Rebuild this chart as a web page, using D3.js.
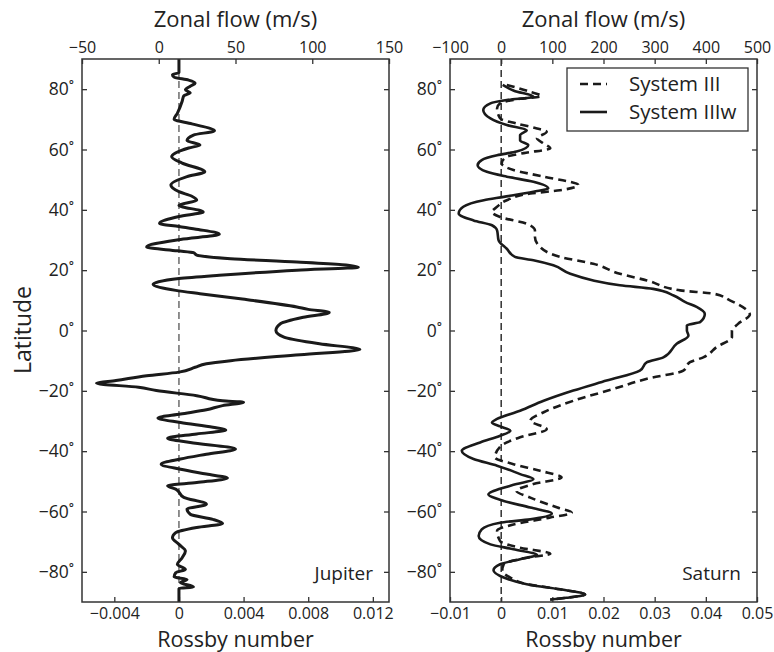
<!DOCTYPE html>
<html>
<head>
<meta charset="utf-8">
<script src="https://cdn.jsdelivr.net/npm/d3@7"></script>
<style>
  body { margin: 0; background: #fff; }
  text { font-family: "Open Sans", sans-serif; fill: #222; }
</style>
</head>
<body>
<div class="RossbyChart"></div>
<script>
// latitude ticks shared by both panels
const latTicks = [-80, -60, -40, -20, 0, 20, 40, 60, 80];

// Jupiter: latitude (deg) and Rossby number
const jupiterLat = [90, 85.5, 84.8, 84, 83, 82, 81, 79.8, 78.8, 77.8, 76, 72, 70, 68.5, 66.2, 64.8, 63, 61.5, 60.5,
  57.6, 55.5, 52.6, 51, 48.2, 46, 44.5, 43.2, 41.5, 39.3, 37.8, 35.5, 34.5, 33.5, 31.9, 30.2, 27.7, 26.4, 25.8, 25,
  23.8, 22.7, 21, 20, 18.3, 17.2, 15.3, 13.3, 12.2, 10.5, 7.8, 7, 6, 4.4, 2.3, 0, -2.2, -4.4, -6.3, -8, -10, -11,
  -12.2, -13.8, -15, -16.6, -17.5, -18.8, -19.9, -21.6, -23.3, -23.8, -24.9, -26.3, -27.7, -29, -30.5, -32.1, -33,
  -34.3, -35.7, -37.1, -39.3, -41, -42.6, -44.3, -46, -47.6, -48.9, -50.4, -51.5, -52.6, -55.3, -57.6, -59.2, -60.9,
  -62.6, -64, -65.3, -67, -68.7, -70.9, -73.1, -75.3, -77.5, -79.2, -80.3, -81.7, -82.5, -83.6, -85, -85.5, -90];
const jupiterRo = [0, 0, -0.0004, -0.0003, 0.0006, 0.001, 0.0007, 0.0004, 0.0007, 0.0003, 0.0002, -0.0001, -0.0003,
  0.0008, 0.0022, 0.0009, 0.0005, 0.0013, 0.0006, -0.00045, 0.0002, 0.0016, 0.0005, -0.0005, 0, 0.0008, 0.0011, 0,
  0.0015, 0, -0.0012, 0, 0.0012, 0.0025, 0.0001, -0.002, -0.0001, 0.0009, 0.0011, 0.0032, 0.0073, 0.0111, 0.0073,
  0.0025, 0, -0.0016, -0.0002, 0.0013, 0.0038, 0.0073, 0.008, 0.0093, 0.0077, 0.0063, 0.006, 0.0065, 0.0087, 0.0112,
  0.0075, 0.0032, 0.0017, 0.001, 0, -0.002, -0.0039, -0.0051, -0.0025, -0.0014, 0.0011, 0.0027, 0.004, 0.0027,
  0.0017, 0.0001, -0.0013, 0.0001, 0.0021, 0.0029, 0.0011, -0.0007, 0.0007, 0.0035, 0.0017, 0.0001, -0.0011, 0.0001,
  0.0017, 0.003, 0.0011, -0.0007, -0.0002, 0.0003, 0.0017, 0.0005, 0.0007, 0.0021, 0.0027, 0.0011, -0.0002, -0.0004,
  0, 0.0004, 0.0002, -0.0001, 0.0004, -0.0002, -0.0003, 0.0005, 0.0001, 0.0009, 0, 0];

// Saturn, System IIIw (solid)
const saturnWLat = [81.4, 79.5, 77.5, 76.4, 75.3, 73.1, 70.3, 68.1, 66.4, 64.8, 63, 61.5, 59.3, 58.1, 56.5, 54.8,
  52.6, 51, 49.3, 47.1, 46, 44.3, 43.2, 41, 38.8, 36.5, 34.9, 33.2, 29.9, 27.1, 24.4, 23.3, 21.6, 18.8, 16.6, 15,
  13.8, 11.6, 9.4, 7.8, 5.5, 2.8, 1.7, 0, -1.7, -4.4, -8.9, -10.5, -13.3, -16.6, -19.9, -23.3, -26.6, -29.3, -30.5,
  -31.8, -33.2, -34.9, -37.1, -39.9, -42.6, -44.8, -47.6, -49.3, -50.9, -53.2, -54.3, -56.5, -58.7, -60.7, -62.6,
  -63.7, -65.9, -68.1, -70.9, -72.5, -74.4, -75.8, -77.5, -79.5, -81.9, -84.1, -85.8, -87.5, -88.6, -89.2];
const saturnWRo = [0.0003, 0.0025, 0.0063, 0.0011, -0.0021, -0.0035, -0.0021, 0.0011, 0.005, 0.0037, 0.0037, 0.0053,
  0.003, -0.0008, -0.0038, -0.0046, -0.0028, 0.0011, 0.0063, 0.0092, 0.0063, 0.0005, -0.0034, -0.0074, -0.0083,
  -0.0054, -0.0018, -0.0008, -0.0005, 0.0011, 0.0027, 0.0063, 0.0102, 0.0135, 0.018, 0.0232, 0.0297, 0.0337, 0.036,
  0.0382, 0.0398, 0.0389, 0.0363, 0.0363, 0.0366, 0.0343, 0.0317, 0.0285, 0.0271, 0.0206, 0.0141, 0.0083, 0.0037,
  -0.0008, -0.0018, -0.0002, 0.0018, -0.0002, -0.0041, -0.0077, -0.0054, -0.0008, 0.0037, 0.0063, 0.003, -0.0015,
  -0.0025, 0.0005, 0.0057, 0.0099, 0.0057, -0.0002, -0.0038, -0.0044, -0.0021, 0.0024, 0.007, 0.0037, -0.0002,
  -0.0015, 0.0005, 0.005, 0.0115, 0.0164, 0.0128, 0.0096];

// Saturn, System III (dashed)
const saturnLat = [81.4, 79.2, 77.7, 76.8, 75.3, 73.7, 70.3, 68.6, 67, 65.9, 63.7, 62, 60.4, 58.8, 57.6, 55.4, 53.2,
  51, 48.2, 46.5, 45.4, 43.2, 41, 39.3, 37.6, 35.4, 33.2, 31, 27.7, 24.4, 22.1, 18.8, 16.6, 13.3, 12.2, 10, 7.2, 5.3,
  2.2, 0, -2.2, -5.5, -8.9, -10.5, -13.3, -16, -19.4, -23.3, -27.1, -29.9, -32.7, -35.4, -38.2, -42.1, -44.3, -46.5,
  -48.7, -50.9, -53.2, -55.4, -58.7, -60.4, -62, -64.3, -66.4, -69.8, -72, -74, -75.3, -77.5, -79.7, -81.9, -84.1,
  -85.8, -87.5, -88.6, -89.2];
const saturnRo = [0.0011, 0.0055, 0.0079, 0.0037, -0.0002, -0.0008, -0.0002, 0.003, 0.007, 0.0089, 0.007, 0.0083,
  0.0096, 0.0044, 0.0011, 0.0001, 0.0024, 0.0083, 0.0151, 0.0115, 0.0057, 0.0011, -0.0008, -0.0018, -0.0002, 0.005,
  0.0066, 0.0066, 0.0076, 0.0115, 0.018, 0.0232, 0.0285, 0.035, 0.0415, 0.0447, 0.0477, 0.0486, 0.0463, 0.0451,
  0.0451, 0.0421, 0.0395, 0.0369, 0.0356, 0.0285, 0.0219, 0.0141, 0.0083, 0.0057, 0.0089, 0.0037, 0, -0.0012, 0.0024,
  0.0076, 0.0118, 0.0063, 0.003, 0.0057, 0.011, 0.0138, 0.0096, 0.0024, -0.0008, -0.0002, 0.0037, 0.0096, 0.005,
  0.0005, 0.0002, 0.0018, 0.005, 0.0115, 0.0164, 0.0128, 0.0096];

// axis ticks
const jupRoTicks = [-0.004, 0, 0.004, 0.008, 0.012];
const jupFlowTicks = [-50, 0, 50, 100, 150];
const satRoTicks = [-0.01, 0, 0.01, 0.02, 0.03, 0.04, 0.05];
const satFlowTicks = [-100, 0, 100, 200, 300, 400, 500];

const W = 774, H = 652;
const plotTop = 59, plotBottom = 602;

let svg = d3.select(".RossbyChart")
  .append("svg")
  .attr("width", W)
  .attr("height", H);

let y = d3.scaleLinear().domain([-90, 90]).range([plotBottom, plotTop]);

function roFmt(digits) {
  let f = d3.format("." + digits + "f");
  return d => d === 0 ? "0" : f(d);
}

function drawPanel(opt) {
  let g = svg.append("g");
  let x = d3.scaleLinear().domain(opt.roDomain).range([opt.left, opt.right]);
  let xTop = d3.scaleLinear().domain(opt.flowDomain).range([opt.left, opt.right]);

  // zero Rossby line
  g.append("line")
    .attr("x1", x(0)).attr("x2", x(0))
    .attr("y1", plotTop).attr("y2", plotBottom)
    .attr("stroke", opt.zeroColor)
    .attr("stroke-width", 1.3)
    .attr("stroke-dasharray", "7,4");

  // axes, ticks pointing inwards
  let ax = g.append("g").attr("transform", "translate(0," + plotBottom + ")")
    .call(d3.axisBottom(x).tickValues(opt.roTicks).tickFormat(roFmt(opt.digits)).tickSize(-5).tickPadding(6));
  let at = g.append("g").attr("transform", "translate(0," + plotTop + ")")
    .call(d3.axisTop(xTop).tickValues(opt.flowTicks).tickFormat(d3.format("d")).tickSize(-5).tickPadding(6));
  let al = g.append("g").attr("transform", "translate(" + opt.left + ",0)")
    .call(d3.axisLeft(y).tickValues(latTicks).tickFormat(d => d3.format("d")(d) + "˚").tickSize(-5).tickPadding(8));
  let ar = g.append("g").attr("transform", "translate(" + opt.right + ",0)")
    .call(d3.axisRight(y).tickValues(latTicks).tickFormat("").tickSize(-5));

  [ax, at, al, ar].forEach(a => {
    a.select(".domain").remove();
    a.selectAll(".tick line").attr("stroke", "#333").attr("stroke-width", 1.3);
    a.selectAll("text").style("font-size", "16px").attr("fill", "#222");
  });
  al.selectAll("text").style("font-size", "17.5px");

  // curves
  opt.series.forEach(s => {
    let pts = s.lat.map((d, i) => ({ lat: d, ro: s.ro[i] }));
    g.append("path")
      .datum(pts)
      .attr("fill", "none")
      .attr("stroke", "#1a1a1a")
      .attr("stroke-width", s.width)
      .attr("stroke-dasharray", s.dash)
      .attr("stroke-linejoin", "round")
      .attr("d", d3.line()
        .curve(d3.curveMonotoneY)
        .x(d => x(d.ro))
        .y(d => y(d.lat)));
  });

  // frame
  g.append("rect")
    .attr("x", opt.left).attr("y", plotTop)
    .attr("width", opt.right - opt.left).attr("height", plotBottom - plotTop)
    .attr("fill", "none")
    .attr("stroke", "#333")
    .attr("stroke-width", 1.5);

  let cx = (opt.left + opt.right) / 2;
  g.append("text").attr("x", cx).attr("y", 27)
    .attr("text-anchor", "middle").style("font-size", "22px")
    .text("Zonal flow (m/s)");
  g.append("text").attr("x", cx).attr("y", 647)
    .attr("text-anchor", "middle").style("font-size", "21.5px")
    .text("Rossby number");
  g.append("text").attr("x", opt.right - 16).attr("y", 580)
    .attr("text-anchor", "end").style("font-size", "19px")
    .text(opt.name);
}

drawPanel({
  left: 82, right: 389,
  roDomain: [-0.006, 0.013], flowDomain: [-50, 150],
  roTicks: jupRoTicks, flowTicks: jupFlowTicks, digits: 3,
  zeroColor: "#555", name: "Jupiter",
  series: [{ lat: jupiterLat, ro: jupiterRo, width: 3, dash: null }]
});

drawPanel({
  left: 450, right: 757,
  roDomain: [-0.01, 0.05], flowDomain: [-100, 500],
  roTicks: satRoTicks, flowTicks: satFlowTicks, digits: 2,
  zeroColor: "#111", name: "Saturn",
  series: [
    { lat: saturnLat, ro: saturnRo, width: 2.6, dash: "8,5" },
    { lat: saturnWLat, ro: saturnWRo, width: 2.6, dash: null }
  ]
});

// y label
svg.append("text")
  .attr("transform", "translate(31,330) rotate(-90)")
  .attr("text-anchor", "middle")
  .style("font-size", "23px")
  .text("Latitude");

// legend
let lg = svg.append("g");
lg.append("rect")
  .attr("x", 567).attr("y", 68).attr("width", 181).attr("height", 63)
  .attr("fill", "#fff").attr("stroke", "#333").attr("stroke-width", 1.3);
[["System III", "8,5", 84], ["System IIIw", null, 112]].forEach(([label, dash, ly]) => {
  lg.append("line")
    .attr("x1", 580).attr("x2", 607).attr("y1", ly).attr("y2", ly)
    .attr("stroke", "#1a1a1a").attr("stroke-width", 2.6)
    .attr("stroke-dasharray", dash);
  lg.append("text")
    .attr("x", 629).attr("y", ly).attr("dy", "0.35em")
    .style("font-size", "20.5px")
    .text(label);
});
</script>
</body>
</html>
